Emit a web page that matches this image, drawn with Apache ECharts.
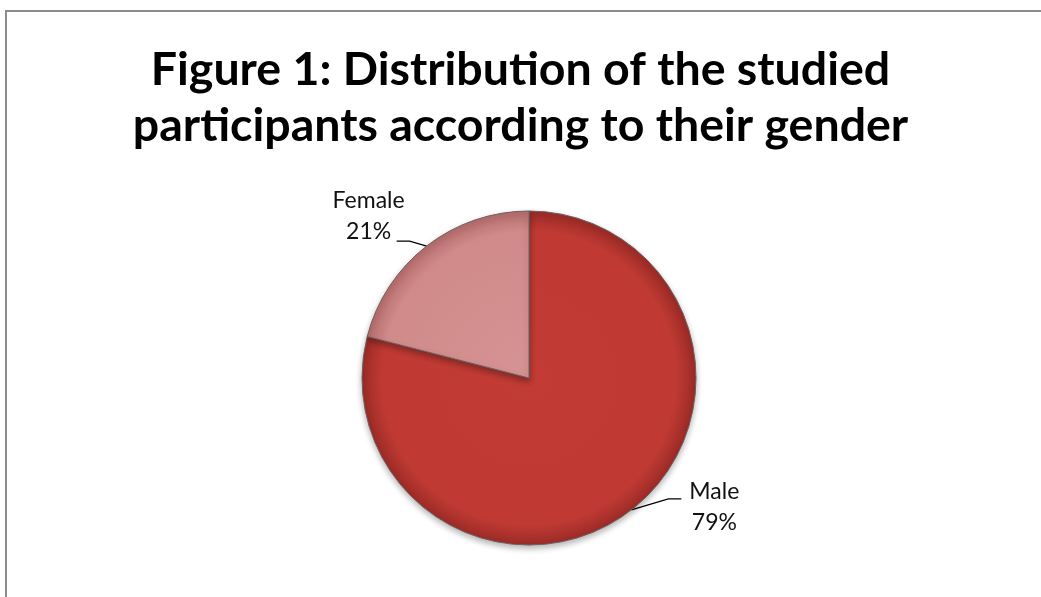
<!DOCTYPE html>
<html>
<head>
<meta charset="utf-8">
<script src="https://cdn.jsdelivr.net/npm/echarts@6/dist/echarts.min.js"></script>
<style>
  html, body { margin: 0; padding: 0; background: #fff; overflow: hidden; }
  #frame { position: absolute; left: 5px; top: 10px; width: 1100px; height: 700px; border: 2px solid #8c8c8c; box-sizing: border-box; }
  #chart { position: absolute; left: 0; top: 0; width: 1041px; height: 597px; }
</style>
</head>
<body>
<div id="frame"></div>
<div id="chart"></div>
<script>
const titleLines = ["Figure 1: Distribution of the studied", "participants according to their gender"];
const categories = ["Male", "Female"];
const values = [79, 21];
const sliceColors = [["#c23c35", "#c03a33", "#9c2b27"], ["#d69393", "#d08a8a", "#b66c6c"]];

const pieCenter = [529, 378];
const pieRadius = 167;

const chart = echarts.init(document.getElementById('chart'), null, { renderer: 'canvas' });

const data = categories.map((name, i) => ({
  name: name,
  value: values[i],
  itemStyle: {
    color: {
      type: 'radial', x: pieCenter[0], y: pieCenter[1], r: pieRadius, global: true,
      colorStops: [
        { offset: 0, color: sliceColors[i][0] },
        { offset: 0.88, color: sliceColors[i][1] },
        { offset: 1, color: sliceColors[i][2] }
      ]
    }
  }
}));

// label placement relative to the slice edge point the library computes
const labelOffsets = [[83, -3], [-58, -30]];
const lineBends = [[[37, -11], [50, -11]], [[-17, -5], [-30, -5]]];

chart.setOption({
  backgroundColor: 'transparent',
  animation: false,
  title: {
    text: titleLines.join('\n'),
    left: 'center',
    top: 37,
    textStyle: {
      fontFamily: 'Lato',
      fontWeight: 'bold',
      fontSize: 46.5,
      lineHeight: 56,
      color: '#000'
    }
  },
  series: [{
    type: 'pie',
    center: pieCenter,
    radius: pieRadius,
    startAngle: 90,
    clockwise: true,
    data: data,
    itemStyle: {
      borderColor: '#6e5e5e', borderWidth: 1,
      shadowBlur: 6, shadowColor: 'rgba(0,0,0,0.3)', shadowOffsetY: 3
    },
    label: {
      show: true,
      position: 'outside',
      formatter: '{b}\n{c}%',
      fontFamily: 'Lato',
      fontSize: 23,
      lineHeight: 31,
      color: '#111',
      align: 'center'
    },
    labelLine: {
      show: true,
      length: 10,
      length2: 16,
      lineStyle: { color: '#000', width: 1.3 }
    },
    labelLayout: function (params) {
      const i = params.dataIndex;
      const edge = params.labelLinePoints[0];
      const off = labelOffsets[i];
      const b = lineBends[i];
      return {
        x: edge[0] + off[0],
        y: edge[1] + off[1],
        align: 'center',
        verticalAlign: 'middle',
        labelLinePoints: [
          [edge[0], edge[1]],
          [edge[0] + b[0][0], edge[1] + b[0][1]],
          [edge[0] + b[1][0], edge[1] + b[1][1]]
        ]
      };
    },
    emphasis: { disabled: true }
  }]
});
</script>
</body>
</html>
